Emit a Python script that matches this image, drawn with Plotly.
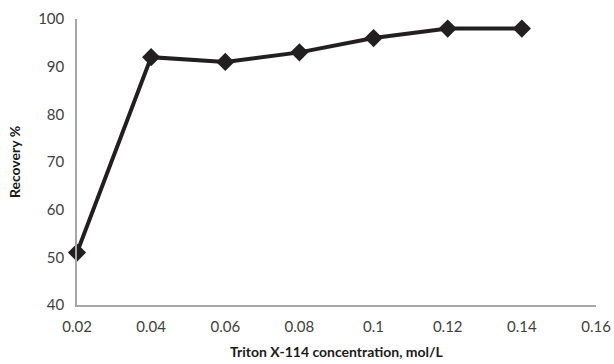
import plotly.graph_objects as go

# Triton X-114 concentration (mol/L) vs. recovery (%)
concentration = [0.02, 0.04, 0.06, 0.08, 0.10, 0.12, 0.14]
recovery = [51, 92, 91, 93, 96, 98, 98]

x_ticks = [0.02, 0.04, 0.06, 0.08, 0.10, 0.12, 0.14, 0.16]
x_tick_text = ["0.02", "0.04", "0.06", "0.08", "0.1", "0.12", "0.14", "0.16"]
y_ticks = [40, 50, 60, 70, 80, 90, 100]

fig = go.Figure(
    go.Scatter(
        x=concentration,
        y=recovery,
        mode="lines+markers",
        line=dict(color="#231f20", width=4),
        marker=dict(symbol="diamond", size=14, color="#231f20"),
        cliponaxis=False,
        showlegend=False,
    )
)

axis_font = dict(family="Lato, Carlito, sans-serif", size=15, color="#404040")
title_font = dict(family="Lato, Carlito, sans-serif", size=14, color="#1a1a1a")

fig.update_xaxes(
    range=[0.02, 0.16],
    tickvals=x_ticks,
    ticktext=x_tick_text,
    showgrid=False,
    zeroline=False,
    showline=True,
    linecolor="#a6a6a6",
    linewidth=1.5,
    ticks="",
    tickfont=axis_font,
    ticklabelstandoff=7,
    automargin=False,
    title=dict(text="<b>Triton X-114 concentration, mol/L</b>", font=title_font, standoff=13),
)
fig.update_yaxes(
    range=[40, 100],
    tickvals=y_ticks,
    showgrid=False,
    zeroline=False,
    showline=True,
    linecolor="#a6a6a6",
    linewidth=1.5,
    ticks="",
    tickfont=axis_font,
    ticklabelstandoff=8,
    automargin=False,
    title=dict(text="<b>Recovery %</b>", font=title_font, standoff=14),
)

fig.update_layout(
    width=614,
    height=364,
    margin=dict(l=77, r=18, t=19, b=59),
    paper_bgcolor="white",
    plot_bgcolor="white",
)

fig.write_html("out.html")
